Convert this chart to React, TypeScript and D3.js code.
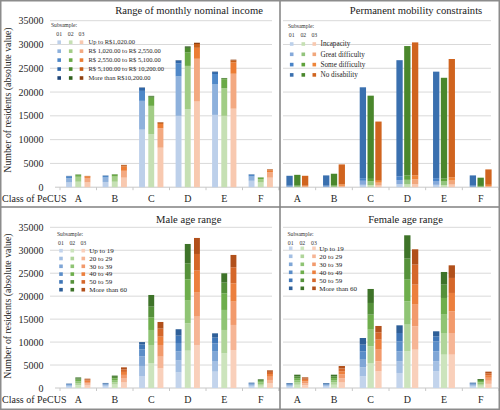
import React from "react";
import * as d3 from "d3";

const classes = ["A", "B", "C", "D", "E", "F"];
const subsamples = ["01", "02", "03"];
const yTicks = [0, 5000, 10000, 15000, 20000, 25000, 30000, 35000];

// Panel 1: Range of monthly nominal income
const incomeLevels = [
  "Up to R$1,020.00",
  "R$ 1,020.00 to R$ 2,550.00",
  "R$ 2,550.00 to R$ 5,100.00",
  "R$ 5,100.00 to R$ 10,200.00",
  "More than R$10,200.00",
];
const income01 = [
  [1000, 900, 350, 100, 25],
  [1100, 950, 300, 80, 20],
  [12100, 6050, 2100, 600, 100],
  [15000, 8300, 2700, 600, 100],
  [15200, 6400, 2200, 400, 90],
  [1350, 900, 320, 100, 20],
];
const income02 = [
  [1150, 1050, 350, 100, 20],
  [1150, 1100, 380, 80, 20],
  [11150, 5950, 1700, 300, 100],
  [16400, 9100, 2800, 1000, 300],
  [15000, 5800, 1900, 200, 60],
  [1000, 700, 250, 80, 20],
];
const income03 = [
  [1000, 950, 320, 90, 15],
  [2000, 1450, 900, 280, 60],
  [8300, 4100, 900, 300, 70],
  [18000, 9000, 2300, 800, 270],
  [16500, 7350, 2400, 420, 140],
  [2000, 1150, 400, 180, 40],
];

// Panel 2: Permanent mobility constraints
const mobilityLevels = ["Incapacity", "Great difficulty", "Some difficulty", "No disability"];
const mobility01 = [
  [50, 120, 150, 2080],
  [50, 120, 160, 2150],
  [500, 850, 550, 19100],
  [600, 900, 800, 24400],
  [500, 800, 600, 22390],
  [50, 120, 160, 2150],
];
const mobility02 = [
  [50, 130, 170, 2250],
  [60, 140, 180, 2450],
  [450, 800, 500, 17490],
  [600, 950, 900, 27220],
  [450, 750, 600, 21200],
  [40, 100, 130, 1730],
];
const mobility03 = [
  [50, 120, 150, 2080],
  [90, 200, 300, 4200],
  [350, 600, 400, 12450],
  [650, 1000, 850, 27940],
  [550, 850, 700, 24850],
  [70, 180, 250, 3240],
];

// Panels 3 & 4: age ranges
const ageLevels = ["Up to 19", "20 to 29", "30 to 39", "40 to 49", "50 to 59", "More than 60"];
const male01 = [
  [300, 200, 150, 120, 100, 80],
  [350, 220, 180, 140, 110, 100],
  [2600, 2200, 2100, 1500, 1100, 500],
  [3400, 2600, 2000, 1800, 1600, 1400],
  [3560, 2320, 2040, 1810, 1240, 940],
  [350, 250, 200, 150, 120, 90],
];
const male02 = [
  [600, 450, 400, 350, 270, 230],
  [750, 500, 450, 400, 330, 270],
  [5370, 4000, 3270, 2760, 2320, 2540],
  [8130, 5960, 4940, 4640, 3490, 4210],
  [7550, 5090, 4360, 3620, 2330, 2030],
  [500, 380, 330, 280, 230, 170],
];
const male03 = [
  [550, 400, 350, 300, 230, 200],
  [1200, 850, 800, 650, 550, 450],
  [4280, 2550, 2540, 1810, 1750, 1450],
  [9370, 6170, 5230, 4790, 3630, 3490],
  [8280, 5450, 5080, 3990, 3490, 2690],
  [1000, 750, 700, 600, 470, 330],
];
const female01 = [
  [300, 200, 180, 160, 130, 120],
  [320, 200, 170, 150, 130, 120],
  [2540, 1960, 1670, 1820, 1450, 1450],
  [3270, 2540, 2180, 2180, 1810, 1670],
  [3630, 2180, 2180, 2180, 1090, 1090],
  [330, 220, 200, 170, 130, 110],
];
const female02 = [
  [700, 500, 480, 450, 400, 370],
  [700, 520, 480, 450, 400, 350],
  [5450, 3630, 3630, 3270, 2540, 3050],
  [7990, 5810, 5080, 4720, 4580, 5080],
  [7260, 4720, 4000, 3630, 2900, 2760],
  [500, 380, 350, 300, 230, 200],
];
const female03 = [
  [600, 420, 400, 350, 300, 250],
  [1200, 900, 850, 700, 600, 540],
  [3630, 2180, 2540, 2180, 1600, 1380],
  [8350, 5080, 4730, 4350, 4360, 3340],
  [7260, 4720, 4720, 4000, 3270, 2750],
  [900, 680, 650, 550, 420, 360],
];

const incomeColors = [
  ["#bdd0ea", "#8eb1dc", "#4f88c8", "#2e66a8", "#1d4477"],
  ["#c6e0b4", "#a2cd86", "#6aaa45", "#4b8a2c", "#2f5f1c"],
  ["#f8c9b0", "#f3a981", "#ec7d35", "#c95f18", "#8f3f0e"],
];
const mobilityColors = [
  ["#bcd0ea", "#85a9da", "#4a84c8", "#3a70af"],
  ["#c6e0b4", "#93c47d", "#5fa23b", "#4a872c"],
  ["#f8c9b0", "#f1a77c", "#ee8539", "#d0641f"],
];
const ageColors = [
  ["#c3d4ec", "#a3bfe3", "#7fa6d6", "#5a8dc8", "#3f76b7", "#2e5f98"],
  ["#cce4bd", "#b0d59a", "#8fc474", "#6eae4c", "#55913a", "#3e7329"],
  ["#f9d0bb", "#f6b595", "#f29a6c", "#ec7f3d", "#d5672a", "#b1501b"],
];

const FONT = "Liberation Serif";

type Legend = {
  x: number;
  y: number;
  codeY: number;
  cols: number[];
  row0: number;
  rowStep: number;
  labelX: number;
  fs: number;
};

type Panel = {
  title: string;
  titleX: number;
  titleY: number;
  levels: string[];
  data: number[][][];
  colors: string[][];
  xRange: [number, number];
  yRange: [number, number];
  innerL: number;
  innerPad: number;
  gridX: [number, number];
  axisX: [number, number];
  showY: boolean;
  legend: Legend;
};

const panels: Panel[] = [
  {
    title: "Range of monthly nominal income",
    titleX: 189,
    titleY: 13.7,
    levels: incomeLevels,
    data: [income01, income02, income03],
    colors: incomeColors,
    xRange: [60, 279],
    yRange: [187.2, 20.7],
    innerL: 24.3,
    innerPad: 0.36,
    gridX: [50, 272],
    axisX: [55, 280],
    showY: true,
    legend: { x: 51, y: 27.3, codeY: 36, cols: [59.2, 70.7, 81.5], row0: 42.2, rowStep: 8.95, labelX: 88.5, fs: 6.5 },
  },
  {
    title: "Permanent mobility constraints",
    titleX: 416,
    titleY: 13.7,
    levels: mobilityLevels,
    data: [mobility01, mobility02, mobility03],
    colors: mobilityColors,
    xRange: [279, 499],
    yRange: [187.2, 20.7],
    innerL: 21.9,
    innerPad: 0.19,
    gridX: [283, 491],
    axisX: [281, 498],
    showY: false,
    legend: { x: 288, y: 28, codeY: 36.5, cols: [291.7, 303.3, 314.3], row0: 44, rowStep: 10.3, labelX: 320.5, fs: 7.2 },
  },
  {
    title: "Male age range",
    titleX: 188.7,
    titleY: 222.7,
    levels: ageLevels,
    data: [male01, male02, male03],
    colors: ageColors,
    xRange: [60, 279],
    yRange: [388, 227.3],
    innerL: 24.3,
    innerPad: 0.36,
    gridX: [50, 272],
    axisX: [55, 280],
    showY: true,
    legend: { x: 57, y: 236, codeY: 244.5, cols: [61, 72.3, 83.3], row0: 250.7, rowStep: 7.8, labelX: 89.3, fs: 7 },
  },
  {
    title: "Female age range",
    titleX: 405.5,
    titleY: 222.7,
    levels: ageLevels,
    data: [female01, female02, female03],
    colors: ageColors,
    xRange: [279, 499],
    yRange: [388, 227.3],
    innerL: 21.9,
    innerPad: 0.19,
    gridX: [283, 491],
    axisX: [281, 498],
    showY: false,
    legend: { x: 287.5, y: 236, codeY: 244.5, cols: [290.7, 302.3, 314], row0: 248.3, rowStep: 8, labelX: 319.3, fs: 7 },
  },
];

function T(props: any) {
  return <text fontFamily={FONT} {...props} />;
}

function PanelView({ p }: { p: Panel }) {
  const x = d3.scaleBand<string>().domain(classes).range(p.xRange);
  const inner = d3
    .scaleBand<string>()
    .domain(subsamples)
    .range([-p.innerL / 2, p.innerL / 2])
    .paddingInner(p.innerPad);
  const y = d3.scaleLinear().domain([0, 35000]).range(p.yRange);
  const bw = inner.bandwidth();
  const base = y(0);

  const bars: React.ReactNode[] = [];
  p.data.forEach((series, si) => {
    series.forEach((vals, ci) => {
      const cx = (x(classes[ci]) as number) + x.bandwidth() / 2;
      const bx = cx + (inner(subsamples[si]) as number);
      const cum = Array.from(d3.cumsum(vals));
      vals.forEach((v, li) => {
        const y1 = y(cum[li]);
        const y0 = y(cum[li] - v);
        bars.push(
          <rect
            key={`b${si}-${ci}-${li}`}
            x={bx}
            y={y1}
            width={bw}
            height={Math.max(0, y0 - y1)}
            fill={p.colors[si][li]}
          />
        );
      });
    });
  });

  const boundaries = d3.range(classes.length + 1).map((i) => p.xRange[0] + i * x.step());
  const lg = p.legend;

  return (
    <g>
      {yTicks.slice(1).map((t) => (
        <line key={`g${t}`} x1={p.gridX[0]} x2={p.gridX[1]} y1={y(t)} y2={y(t)} stroke="#d9d9d9" strokeWidth={1} />
      ))}
      <line x1={p.axisX[0]} x2={p.axisX[1]} y1={base} y2={base} stroke="#c8c8c8" strokeWidth={1} />
      {boundaries.map((bx, i) => (
        <line key={`t${i}`} x1={bx} x2={bx} y1={base} y2={base + 3} stroke="#c8c8c8" strokeWidth={1} />
      ))}
      {bars}
      {p.showY &&
        yTicks.map((t) => (
          <T key={`yl${t}`} x={43.5} y={y(t) + 3.5} textAnchor="end" fontSize={10} fill="#262626">
            {t}
          </T>
        ))}
      {classes.map((c) => (
        <T
          key={`c${c}`}
          x={(x(c) as number) + x.bandwidth() / 2}
          y={base + 14.5}
          textAnchor="middle"
          fontSize={10}
          fill="#262626"
        >
          {c}
        </T>
      ))}
      {p.showY && (
        <T x={2} y={base + 14.5} fontSize={10} fill="#262626">
          Class of PeCUS
        </T>
      )}
      <T x={p.titleX} y={p.titleY} textAnchor="middle" fontSize={10.6} fill="#1a1a1a">
        {p.title}
      </T>
      <T x={lg.x} y={lg.y} fontSize={5.6} fill="#333">
        Subsample:
      </T>
      {subsamples.map((s, i) => (
        <T key={`sc${s}`} x={lg.cols[i]} y={lg.codeY} textAnchor="middle" fontSize={5.8} fill="#333">
          {s}
        </T>
      ))}
      {p.levels.map((lab, li) => {
        const cy = lg.row0 + li * lg.rowStep;
        return (
          <g key={`lg${li}`}>
            {subsamples.map((s, si) => (
              <rect key={`m${si}`} x={lg.cols[si] - 1.8} y={cy - 1.8} width={3.6} height={3.6} fill={p.colors[si][li]} />
            ))}
            <T x={lg.labelX} y={cy + lg.fs * 0.33} fontSize={lg.fs} fill="#262626">
              {lab}
            </T>
          </g>
        );
      })}
    </g>
  );
}

export default function App() {
  return (
    <div style={{ position: "absolute", left: 0, top: 0, width: 500, height: 410, background: "#fff" }}>
      <svg width={500} height={410} fontFamily={FONT} style={{ display: "block" }}>
        <rect x={0} y={0} width={500} height={410} fill="#fff" />
        {panels.map((p, i) => (
          <PanelView key={i} p={p} />
        ))}
        <T
          transform="translate(7.5,100) rotate(-90)"
          textAnchor="middle"
          dominantBaseline="central"
          fontSize={9.8}
          fill="#262626"
        >
          Number of residents (absolute value)
        </T>
        <T
          transform="translate(7.5,306) rotate(-90)"
          textAnchor="middle"
          dominantBaseline="central"
          fontSize={9.8}
          fill="#262626"
        >
          Number of residents (absolute value)
        </T>
        <line x1={280} x2={280} y1={0} y2={410} stroke="#808080" strokeWidth={1.5} />
        <line x1={0} x2={500} y1={207} y2={207} stroke="#808080" strokeWidth={1.5} />
        <rect x={0.75} y={0.75} width={498.5} height={408.5} fill="none" stroke="#8c8c8c" strokeWidth={1.5} />
      </svg>
    </div>
  );
}
